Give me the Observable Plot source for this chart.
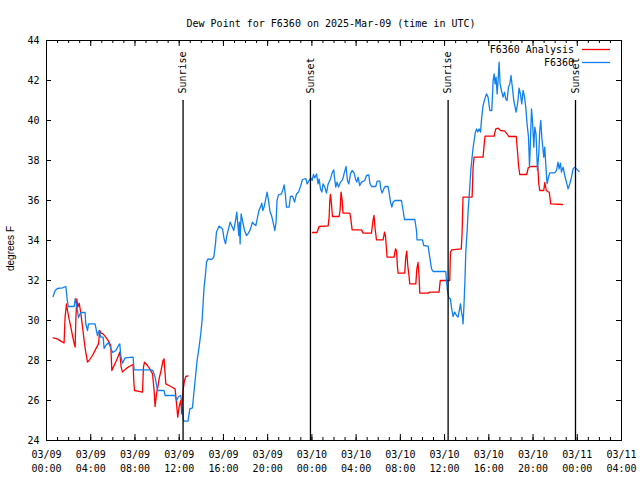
<!DOCTYPE html>
<html><head><meta charset="utf-8">
<script src="https://cdn.jsdelivr.net/npm/d3@7"></script>
<script src="https://cdn.jsdelivr.net/npm/@observablehq/plot@0.6"></script>
<style>body{margin:0;background:#fff}</style>
</head><body><div id="chart"></div>
<script>
const title = "Dew Point for F6360 on 2025-Mar-09 (time in UTC)";
const yLabel = "degrees F";
const startUtc = Date.UTC(2025, 2, 9);
const xDomainHours = [0, 52];
const yDomain = [24, 44];
const yTicks = [24, 26, 28, 30, 32, 34, 36, 38, 40, 42, 44];
const xMajorHours = d3.range(0, 53, 4);
const xMinorHours = d3.range(0, 53, 1);
const seriesNames = ["F6360 Analysis", "F6360"];
const seriesColors = ["#ff0000", "#1080f0"];

const analysisHours = [
0.60,0.99,1.29,1.59,1.68,1.81,1.90,2.04,2.20,2.35,
2.47,2.59,2.65,2.74,2.83,2.95,3.07,3.26,3.44,3.55,
3.71,3.85,4.16,4.46,4.70,4.82,4.94,5.12,5.36,5.61,
5.81,5.91,6.11,6.33,6.51,6.63,6.75,6.87,7.17,7.47,
7.83,7.89,7.96,8.23,8.68,8.77,8.86,9.13,9.34,9.59,
9.73,9.82,9.95,10.07,10.18,10.36,10.54,10.63,10.79,11.24,
11.63,11.76,11.87,11.99,12.14,12.24,12.35,12.48,12.60,12.80,
18.00,
24.05,24.47,24.65,25.47,25.56,25.62,25.68,25.77,25.86,26.46,
26.55,26.64,26.73,26.82,27.43,27.52,27.64,28.49,28.63,29.39,
29.53,29.62,29.72,29.84,30.44,30.57,30.66,30.75,30.80,31.43,
31.56,31.65,31.74,31.80,32.40,32.49,32.58,32.67,32.79,32.85,
33.40,33.49,33.60,33.69,33.76,34.51,34.66,35.50,35.61,36.47,
36.53,36.65,37.51,37.58,37.67,38.49,38.58,38.67,39.48,39.57,
39.66,40.48,40.63,40.84,41.06,41.44,41.60,41.81,42.48,42.59,
42.68,42.80,43.43,43.57,43.86,44.43,44.52,44.61,44.97,45.06,
45.20,45.47,45.60,46.66];
const analysisDew = [
29.13,29.08,28.97,28.88,30.17,30.83,30.5,30.08,29.67,29.25,
28.92,28.67,30.0,31.08,30.67,30.87,30.5,29.67,28.83,28.42,
27.92,28.0,28.25,28.58,28.83,29.5,29.37,29.33,29.17,28.97,
28.75,27.5,27.75,28.0,28.25,28.42,27.67,27.42,27.58,27.7,
27.8,27.0,26.5,26.47,26.42,27.67,27.92,27.75,27.58,27.33,
26.5,25.7,26.33,26.67,27.08,27.5,28.0,28.08,26.83,26.7,
26.58,25.83,25.17,25.67,26.0,25.33,26.5,27.0,27.2,27.23,
null,
34.4,34.4,34.7,34.73,35.17,36.0,36.3,35.83,35.2,35.2,
35.5,36.42,36.03,35.37,35.37,35.08,34.53,34.53,34.37,34.37,
35.0,35.25,34.58,34.03,34.03,34.42,34.2,33.53,33.17,33.17,
33.58,33.5,32.67,32.37,32.37,33.17,33.47,32.75,32.2,31.83,
31.83,32.58,32.9,32.25,31.37,31.37,31.42,31.42,32.0,32.0,
33.42,33.53,33.58,34.33,36.17,36.17,37.67,38.17,38.17,38.75,
39.22,39.22,39.58,39.62,39.5,39.47,39.37,39.2,39.2,38.5,
37.8,37.3,37.3,37.65,37.7,37.7,36.83,36.5,36.5,36.9,
36.5,36.4,35.83,35.8];

const obsHours = [
0.60,0.78,0.99,1.45,1.75,1.88,1.97,2.50,2.60,2.80,
2.89,3.10,3.49,3.55,3.71,3.80,4.39,4.61,4.76,4.91,
5.12,5.21,5.36,5.61,5.97,6.27,6.51,6.63,6.72,6.87,
7.11,7.83,7.92,9.52,9.64,9.82,10.04,10.63,10.73,11.63,
11.76,11.94,12.14,12.30,12.35,12.42,12.80,12.96,13.20,13.32,
13.50,13.62,13.80,13.95,14.07,14.16,14.25,14.38,14.47,14.61,
14.92,15.13,15.28,15.37,15.61,15.92,16.06,16.19,16.28,16.46,
16.60,16.78,16.94,17.12,17.21,17.30,17.39,17.45,17.51,17.60,
17.72,17.91,18.09,18.27,18.45,18.63,18.75,18.93,19.04,19.20,
19.35,19.47,19.56,19.68,19.83,19.95,20.10,20.22,20.35,20.49,
20.65,20.76,20.85,20.98,21.25,21.40,21.49,21.61,21.70,21.94,
22.06,22.25,22.43,22.61,22.79,22.97,23.15,23.45,23.57,23.72,
23.90,24.02,24.14,24.26,24.42,24.56,24.65,24.78,24.90,25.01,
25.17,25.32,25.47,25.68,25.86,25.98,26.04,26.16,26.28,26.41,
26.59,26.77,26.91,27.09,27.22,27.34,27.49,27.64,27.82,27.94,
28.06,28.18,28.33,28.49,28.78,28.94,29.15,29.24,29.39,29.78,
29.90,30.14,30.23,30.35,30.50,30.62,30.89,30.98,31.11,31.23,
31.34,31.52,32.10,32.25,32.37,33.31,33.46,33.51,34.00,34.12,
34.51,34.66,34.82,34.96,36.11,36.17,36.26,36.38,36.53,36.62,
36.77,36.92,37.08,37.22,37.44,37.53,37.62,37.67,37.74,37.83,
37.92,38.04,38.13,38.28,38.37,38.46,38.55,38.67,38.79,38.89,
39.00,39.12,39.25,39.36,39.48,39.64,39.79,39.93,40.09,40.27,
40.39,40.48,40.57,40.66,40.75,40.84,40.93,41.02,41.14,41.29,
41.42,41.53,41.65,41.78,41.90,42.01,42.14,42.26,42.47,42.62,
42.74,42.86,42.98,43.10,43.23,43.34,43.46,43.59,43.68,43.77,
43.86,43.95,44.07,44.16,44.27,44.40,44.52,44.61,44.70,44.79,
44.88,44.97,45.06,45.15,45.27,45.40,45.51,45.97,46.12,46.26,
46.36,46.48,46.57,46.72,46.87,47.02,47.17,47.32,47.48,47.62,
47.78,47.93,48.16];
const obsDew = [
31.2,31.5,31.6,31.63,31.7,31.0,30.7,30.7,31.1,30.5,
30.15,30.4,30.4,29.85,29.5,29.83,29.83,29.25,29.5,29.17,
29.17,28.6,28.75,28.9,28.4,28.5,28.75,28.83,28.2,27.87,
28.13,28.17,27.53,27.53,27.47,27.17,26.5,26.5,26.25,26.25,
26.0,26.2,26.25,25.65,25.17,24.97,24.97,25.58,25.63,26.33,
27.33,28.0,28.67,29.33,30.0,30.83,31.67,32.33,32.92,33.08,
33.05,33.17,33.83,34.42,34.72,34.58,34.08,33.83,34.17,34.58,
34.92,34.7,34.5,35.08,35.42,34.83,34.25,34.92,33.83,35.33,
35.0,34.5,34.25,34.37,34.58,34.92,34.83,34.75,35.03,35.47,
35.67,35.87,35.5,35.67,36.08,36.42,35.92,35.42,35.25,34.92,
34.5,34.92,36.0,36.28,36.33,36.58,36.78,36.25,35.67,35.67,
36.2,36.22,35.92,36.33,36.42,36.7,37.05,37.1,36.83,36.97,
37.13,37.0,37.3,37.13,37.33,36.83,37.08,36.58,36.42,36.83,
36.67,36.37,36.83,37.08,37.42,37.53,37.17,36.67,36.92,36.67,
36.92,37.03,37.33,37.7,37.0,36.83,37.33,37.5,37.37,37.08,
36.92,37.17,36.75,36.92,37.0,37.25,37.28,36.87,36.7,36.7,
36.97,36.97,36.58,36.37,36.58,36.7,36.7,36.42,35.92,35.67,
35.92,36.0,36.0,35.5,35.05,35.05,34.5,34.03,34.03,33.75,
33.72,33.17,32.58,32.45,32.45,32.0,31.5,31.13,31.08,30.67,
30.2,30.42,30.25,30.17,30.83,30.42,30.17,29.83,30.58,31.83,
33.42,34.5,35.5,36.67,37.5,38.0,38.5,39.0,39.42,39.58,
39.42,39.58,39.42,40.17,40.75,41.08,41.33,41.17,40.5,40.5,
42.0,42.33,41.83,42.17,41.33,42.0,42.92,41.83,41.5,41.17,
41.42,41.08,41.0,41.67,41.83,42.25,41.6,41.0,40.42,40.9,
41.62,41.33,40.83,41.5,41.17,40.67,39.83,39.17,37.67,39.0,
40.58,40.0,38.67,39.67,39.33,37.5,38.33,39.5,40.0,39.17,
38.67,38.17,38.67,37.83,36.83,37.17,37.38,37.38,37.5,37.92,
37.58,37.87,37.42,37.67,37.25,36.92,36.58,36.83,37.17,37.58,
37.67,37.58,37.45];

const sunHours = [12.35, 23.87, 36.32, 47.84];
const sunLabels = ["Sunrise", "Sunset", "Sunrise", "Sunset"];
const sunLineTop = 41;

if (analysisHours.length !== analysisDew.length) throw new Error("analysis length " + analysisHours.length + " vs " + analysisDew.length);
if (obsHours.length !== obsDew.length) throw new Error("obs length " + obsHours.length + " vs " + obsDew.length);

const toDate = h => new Date(startUtc + h * 3600e3);
const analysisData = analysisHours.map((h, i) => ({t: toDate(h), v: analysisDew[i]}));
const obsData = obsHours.map((h, i) => ({t: toDate(h), v: obsDew[i]}));
const sunData = sunHours.map((h, i) => ({t: toDate(h), label: sunLabels[i]}));
const xMajor = xMajorHours.map(toDate);
const xMinor = xMinorHours.map(toDate);

const W = 640, H = 480, mL = 46, mR = 19, mT = 40, mB = 40;
const fw = W - mL - mR, fh = H - mT - mB;
const mono = "'DejaVu Sans Mono', monospace";

const plot = Plot.plot({
  width: W, height: H,
  marginLeft: mL, marginRight: mR, marginTop: mT, marginBottom: mB,
  style: {fontFamily: mono, fontSize: "10px", background: "#fff", color: "#000", overflow: "visible"},
  x: {type: "utc", domain: xDomainHours.map(toDate)},
  y: {domain: yDomain},
  marks: [
    Plot.line(analysisData, {x: "t", y: "v", stroke: seriesColors[0], strokeWidth: 1.3}),
    Plot.line(obsData, {x: "t", y: "v", stroke: seriesColors[1], strokeWidth: 1.3}),
    Plot.ruleX(sunData, {x: "t", y1: yDomain[0], y2: sunLineTop, stroke: "#000", strokeWidth: 1.3}),
    Plot.text(sunData, {x: "t", y: sunLineTop, text: "label", rotate: -90, textAnchor: "start", dy: -7, fill: "#000"}),
    Plot.tickX(xMajor, {x: d => d, insetTop: fh - 6, stroke: "#000"}),
    Plot.tickX(xMajor, {x: d => d, insetBottom: fh - 6, stroke: "#000"}),
    Plot.tickX(xMinor, {x: d => d, insetTop: fh - 3, stroke: "#000"}),
    Plot.tickX(xMinor, {x: d => d, insetBottom: fh - 3, stroke: "#000"}),
    Plot.tickY(yTicks, {y: d => d, insetRight: fw - 5, stroke: "#000"}),
    Plot.tickY(yTicks, {y: d => d, insetLeft: fw - 5, stroke: "#000"}),
    Plot.frame({stroke: "#000"}),
    Plot.axisX({ticks: xMajor, tickSize: 0, tickPadding: 8, tickFormat: d3.utcFormat("%m/%d\n%H:%M"), lineHeight: 1.4, label: null, fill: "#000"}),
    Plot.axisY({ticks: yTicks, tickSize: 0, tickPadding: 7, label: null, fill: "#000"}),
    Plot.text([yLabel], {frameAnchor: "left", textAnchor: "middle", rotate: -90, dx: -36, dy: 8, fontFamily: "'Liberation Sans', sans-serif", fontSize: 10, fill: "#000"}),
    Plot.text([title], {frameAnchor: "top", dy: -21, dx: -3, fill: "#000"})
  ]
});

const svg = d3.select(plot);
const legendRight = W - mR;
seriesNames.forEach((name, i) => {
  const ly = mT + 9.5 + i * 13;
  svg.append("text").attr("x", legendRight - 47).attr("y", ly).attr("dy", "0.32em")
    .attr("text-anchor", "end").attr("fill", "#000").text(name);
  svg.append("line").attr("x1", legendRight - 39).attr("x2", legendRight - 11)
    .attr("y1", ly).attr("y2", ly).attr("stroke", seriesColors[i]).attr("stroke-width", 1.3);
});
document.getElementById("chart").appendChild(plot);
</script>
</body></html>
